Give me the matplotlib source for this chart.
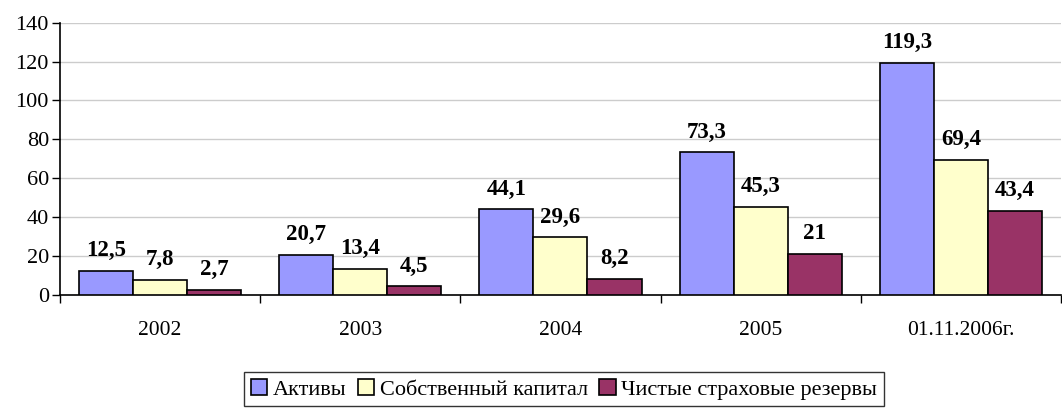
import numpy as np
import matplotlib.pyplot as plt
from matplotlib.patches import Patch

categories = ['2002', '2003', '2004', '2005', '01.11.2006г.']
aktivy = [12.5, 20.7, 44.1, 73.3, 119.3]
kapital = [7.8, 13.4, 29.6, 45.3, 69.4]
rezervy = [2.7, 4.5, 8.2, 21.0, 43.4]
labels_aktivy = ['12,5', '20,7', '44,1', '73,3', '119,3']
labels_kapital = ['7,8', '13,4', '29,6', '45,3', '69,4']
labels_rezervy = ['2,7', '4,5', '8,2', '21', '43,4']
series_names = ['Активы', 'Собственный капитал', 'Чистые страховые резервы']

plt.rcParams['font.family'] = ['Liberation Serif', 'DejaVu Serif']

fig = plt.figure(figsize=(10.62, 4.12), dpi=100)
ax = fig.add_axes([0.0565, 0.284, 0.9425, 0.661])

colors = ['#9999FF', '#FFFFCC', '#993366']
w = 0.27
x = np.arange(len(categories))
data = [(aktivy, labels_aktivy), (kapital, labels_kapital), (rezervy, labels_rezervy)]
for i, (vals, labs) in enumerate(data):
    pos = x + (i - 1) * w
    ax.bar(pos, vals, width=w, color=colors[i], edgecolor='black', linewidth=1.2, zorder=3)
    for px, v, t in zip(pos, vals, labs):
        ax.annotate(t, (px, v), xytext=(0, 7), textcoords='offset points',
                    ha='center', va='bottom', fontsize=16.5, fontweight='bold')

ax.set_xlim(-0.5, len(categories) - 0.5)
ax.set_ylim(0, 140)
ax.set_yticks(range(0, 141, 20))
ax.tick_params(axis='y', labelsize=16, length=6, width=1, pad=2)
ax.set_xticks(x)
ax.set_xticklabels(categories)
for lab in ax.get_xticklabels():
    lab.set_fontsize(15.5)
ax.set_xticks(np.arange(-0.5, len(categories)), minor=True)
ax.tick_params(axis='x', which='major', length=0, pad=19)
ax.tick_params(axis='x', which='minor', length=6, width=1)
ax.grid(axis='y', color='#CCCCCC', linewidth=1, zorder=0)
ax.spines['right'].set_visible(False)
ax.spines['top'].set_visible(False)
ax.spines['left'].set_linewidth(1.2)
ax.spines['bottom'].set_linewidth(1.2)

handles = [Patch(facecolor=c, edgecolor='black', linewidth=1.2) for c in colors]
leg = fig.legend(handles, series_names, loc='center', bbox_to_anchor=(0.531, 0.055),
                 ncol=3, fontsize=16, frameon=True, fancybox=False,
                 handlelength=0.75, handleheight=0.75, handletextpad=0.25,
                 columnspacing=0.5, borderpad=0.3, borderaxespad=0)
leg.get_frame().set_edgecolor('black')
leg.get_frame().set_linewidth(1)

fig.savefig('out.png', dpi=100)
